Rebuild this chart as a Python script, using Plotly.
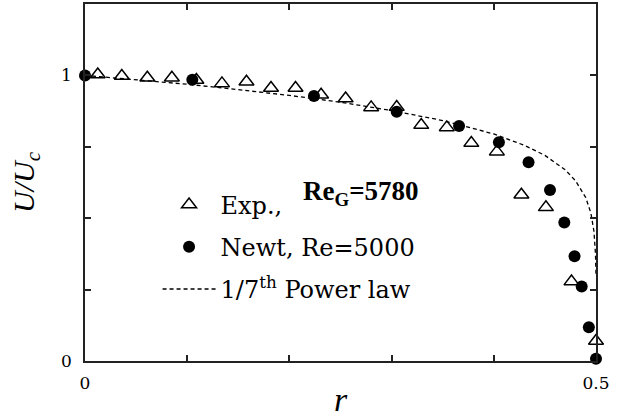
import plotly.graph_objects as go

# Experimental data (Re_G = 5780), open triangles
exp_r = [0.0125, 0.036, 0.061, 0.085, 0.109, 0.134, 0.158, 0.182, 0.206, 0.231, 0.255,
         0.280, 0.305, 0.329, 0.354, 0.378, 0.403, 0.427, 0.451, 0.476, 0.500]
exp_u = [1.003, 0.998, 0.992, 0.992, 0.984, 0.972, 0.978, 0.956, 0.956, 0.932, 0.919,
         0.888, 0.889, 0.826, 0.818, 0.763, 0.733, 0.582, 0.538, 0.278, 0.070]

# Newtonian simulation, Re = 5000, filled circles
newt_r = [0.0, 0.105, 0.224, 0.305, 0.366, 0.405, 0.434, 0.455, 0.469, 0.479, 0.486, 0.493, 0.500]
newt_u = [1.0, 0.985, 0.928, 0.873, 0.823, 0.766, 0.696, 0.599, 0.485, 0.367, 0.261, 0.118, 0.008]

# 1/7th power law curve
pow_r = [0.0, 0.05, 0.10, 0.15, 0.20, 0.25, 0.30, 0.35, 0.40, 0.43, 0.45, 0.47, 0.48,
         0.49, 0.495, 0.498, 0.4995, 0.49999]
pow_u = [1.0, 0.985, 0.969, 0.950, 0.930, 0.906, 0.877, 0.842, 0.795, 0.755, 0.720,
         0.669, 0.631, 0.572, 0.518, 0.454, 0.374, 0.30]

x_ticks = [0, 0.1, 0.2, 0.3, 0.4, 0.5]
x_ticktext = ["0", "", "", "", "", "0.5"]
y_ticks = [0, 0.25, 0.5, 0.75, 1.0, 1.25]
y_ticktext = ["0", "", "", "", "1", ""]

fig = go.Figure()
fig.add_trace(go.Scatter(
    x=pow_r, y=pow_u, mode="lines", name="1/7<sup>th</sup> Power law",
    line=dict(color="black", width=1.3, dash="4px,3px"), legendrank=3,
    legendgroup="c"))
fig.add_trace(go.Scatter(
    x=exp_r, y=exp_u, mode="markers", name="Exp.,",
    marker=dict(symbol="triangle-up-open", size=13, color="black", line=dict(width=1.5)),
    legendrank=1, legendgroup="a", cliponaxis=False))
fig.add_trace(go.Scatter(
    x=newt_r, y=newt_u, mode="markers", name="Newt, Re=5000",
    marker=dict(symbol="circle", size=12, color="black"),
    legendrank=2, legendgroup="b", cliponaxis=False))

fig.add_annotation(
    x=0.423, y=0.47, xref="paper", yref="paper", xanchor="left", yanchor="middle",
    text="<b>Re<sub>G</sub>=5780</b>", showarrow=False,
    font=dict(family="Liberation Serif", size=27, color="black"))

axis_common = dict(
    showline=True, linecolor="#222", linewidth=1.5, mirror="ticks",
    ticks="inside", ticklen=6, tickwidth=1.5, tickcolor="#222",
    showgrid=False, zeroline=False, automargin=False,
    tickfont=dict(family="DejaVu Serif", size=17, color="black"),
)
fig.update_xaxes(range=[0, 0.5], tickvals=x_ticks, ticktext=x_ticktext,
                 ticklabelstandoff=6,
                 title=dict(text="<i>r</i>", standoff=14,
                            font=dict(family="Liberation Serif", size=34, color="black")),
                 **axis_common)
fig.update_yaxes(range=[0, 1.25], tickvals=y_ticks, ticktext=y_ticktext,
                 ticklabelstandoff=8,
                 title=dict(text="<i>U/U<sub>c</sub></i>", standoff=18,
                            font=dict(family="Liberation Serif", size=30, color="black")),
                 **axis_common)

fig.update_layout(
    width=624, height=418,
    margin=dict(l=85, r=28, t=4, b=57),
    paper_bgcolor="white", plot_bgcolor="white",
    showlegend=True,
    legend=dict(x=0.142, y=0.5, xanchor="left", yanchor="top",
                bgcolor="rgba(0,0,0,0)", borderwidth=0,
                font=dict(family="DejaVu Serif", size=24, color="black"),
                itemwidth=53, tracegroupgap=8, traceorder="grouped"),
)

fig.write_html("out.html")
